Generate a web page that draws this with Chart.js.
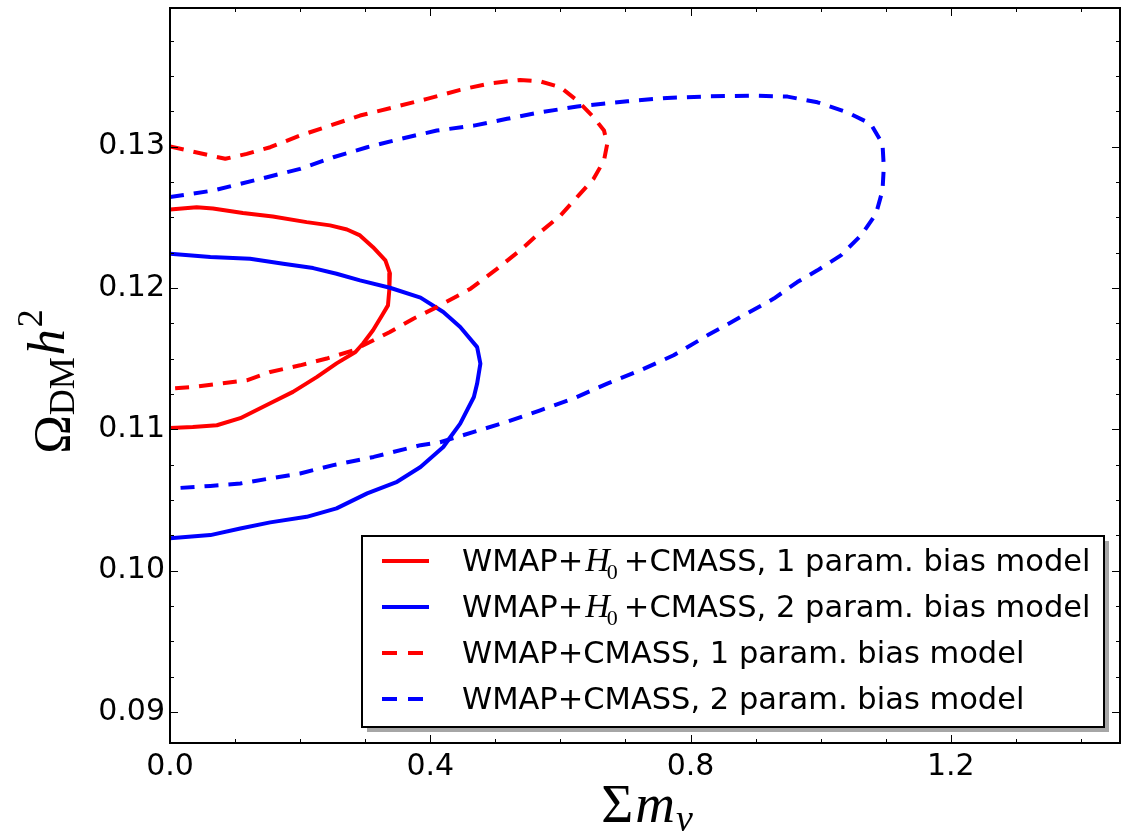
<!DOCTYPE html>
<html>
<head>
<meta charset="utf-8">
<script src="https://cdn.jsdelivr.net/npm/chart.js@4.4.1/dist/chart.umd.min.js"></script>
<style>
html, body { margin: 0; padding: 0; background: #fff; }
#wrap { width: 1121px; height: 837px; }
</style>
</head>
<body>
<div id="wrap"><canvas id="chart" width="1121" height="837"></canvas></div>
<script>
// contour data (sum m_nu, Omega_DM h^2)
var redSolidX = [0, 0.041, 0.066, 0.112, 0.158, 0.210, 0.246, 0.272, 0.292, 0.312, 0.331, 0.338, 0.337, 0.335, 0.326, 0.312, 0.297, 0.285, 0.256, 0.226, 0.189, 0.154, 0.108, 0.072, 0.035, 0];
var redSolidY = [0.12555, 0.12571, 0.12562, 0.12529, 0.12505, 0.12465, 0.12442, 0.12413, 0.12371, 0.12288, 0.12194, 0.12102, 0.11982, 0.11876, 0.11806, 0.11700, 0.11608, 0.11546, 0.11466, 0.11370, 0.11264, 0.11184, 0.11078, 0.11028, 0.11016, 0.11009];

var blueSolidX = [0, 0.062, 0.123, 0.174, 0.220, 0.256, 0.292, 0.338, 0.385, 0.420, 0.446, 0.472, 0.477, 0.472, 0.467, 0.446, 0.431, 0.420, 0.385, 0.349, 0.303, 0.256, 0.210, 0.154, 0.108, 0.062, 0];
var blueSolidY = [0.12242, 0.12218, 0.12206, 0.12171, 0.12140, 0.12100, 0.12053, 0.12001, 0.11931, 0.11829, 0.11723, 0.11581, 0.11464, 0.11323, 0.11228, 0.11040, 0.10945, 0.10874, 0.10733, 0.10628, 0.10546, 0.10440, 0.10380, 0.10341, 0.10298, 0.10251, 0.10228];

var redDashX = [0, 0.085, 0.118, 0.154, 0.200, 0.246, 0.292, 0.344, 0.395, 0.446, 0.492, 0.538, 0.569, 0.600, 0.626, 0.651, 0.667, 0.672, 0.667, 0.651, 0.628, 0.600, 0.569, 0.538, 0.503, 0.462, 0.410, 0.374, 0.338, 0.282, 0.241, 0.200, 0.154, 0.118, 0.077, 0.036, 0];
var redDashY = [0.13000, 0.12913, 0.12948, 0.12995, 0.13078, 0.13148, 0.13219, 0.13278, 0.13337, 0.13401, 0.13447, 0.13471, 0.13461, 0.13419, 0.13325, 0.13207, 0.13113, 0.13019, 0.12901, 0.12772, 0.12654, 0.12512, 0.12394, 0.12265, 0.12136, 0.11994, 0.11864, 0.11782, 0.11688, 0.11558, 0.11500, 0.11452, 0.11405, 0.11346, 0.11323, 0.11299, 0.11288];

var blueDashX = [0, 0.067, 0.108, 0.149, 0.200, 0.251, 0.303, 0.354, 0.410, 0.467, 0.518, 0.569, 0.626, 0.703, 0.764, 0.831, 0.892, 0.949, 0.995, 1.041, 1.077, 1.095, 1.097, 1.095, 1.085, 1.062, 1.031, 0.995, 0.964, 0.928, 0.877, 0.826, 0.774, 0.723, 0.672, 0.620, 0.569, 0.518, 0.467, 0.415, 0.385, 0.313, 0.251, 0.200, 0.154, 0.108, 0.062, 0];
var blueDashY = [0.12642, 0.12689, 0.12736, 0.12783, 0.12842, 0.12924, 0.12995, 0.13054, 0.13113, 0.13148, 0.13196, 0.13242, 0.13283, 0.13320, 0.13344, 0.13355, 0.13360, 0.13353, 0.13313, 0.13242, 0.13160, 0.13019, 0.12854, 0.12689, 0.12524, 0.12371, 0.12230, 0.12124, 0.12041, 0.11924, 0.11794, 0.11664, 0.11523, 0.11417, 0.11323, 0.11217, 0.11134, 0.11052, 0.10981, 0.10908, 0.10887, 0.10804, 0.10746, 0.10687, 0.10652, 0.10616, 0.10599, 0.10580];

var xMajorTicks = [0.0, 0.4, 0.8, 1.2];
var xMinorTicks = [0.1, 0.2, 0.3, 0.5, 0.6, 0.7, 0.9, 1.0, 1.1, 1.3, 1.4];
var yMajorTicks = [0.09, 0.10, 0.11, 0.12, 0.13];
var yMinorTicks = [0.0925, 0.095, 0.0975, 0.1025, 0.105, 0.1075, 0.1125, 0.115, 0.1175, 0.1225, 0.125, 0.1275, 0.1325, 0.135, 0.1375];

// legend: [before H0, has H0, after H0]
var legendLabels = [
    ["WMAP+", true, "+CMASS, 1 param. bias model"],
    ["WMAP+", true, "+CMASS, 2 param. bias model"],
    ["WMAP+CMASS, 1 param. bias model", false, ""],
    ["WMAP+CMASS, 2 param. bias model", false, ""]
];

var RED = "#ff0000", BLUE = "#0000ff";
var DASH = [14, 10];

function pts(xs, ys) {
    return xs.map(function(x, i) { return { x: x, y: ys[i] }; });
}

function series(xs, ys, color, dashed, order) {
    return {
        data: pts(xs, ys),
        showLine: true,
        borderColor: color,
        borderWidth: 4,
        borderDash: dashed ? DASH : [],
        borderJoinStyle: "round",
        pointRadius: 0,
        fill: false,
        tension: 0,
        order: order
    };
}

var sans = "'DejaVu Sans', sans-serif";
var serif = "'Liberation Serif', 'DejaVu Serif', serif";

var decor = {
    id: "decor",
    afterDraw: function(chart) {
        var ctx = chart.ctx, a = chart.chartArea;
        var xs = chart.scales.x, ys = chart.scales.y;
        ctx.save();

        // ticks on all four sides, pointing inwards
        ctx.strokeStyle = "#000";
        ctx.lineWidth = 1;
        function xt(v, len) {
            var p = Math.round(xs.getPixelForValue(v)) + 0.5;
            ctx.beginPath();
            ctx.moveTo(p, a.bottom); ctx.lineTo(p, a.bottom - len);
            ctx.moveTo(p, a.top); ctx.lineTo(p, a.top + len);
            ctx.stroke();
        }
        function yt(v, len) {
            var p = Math.round(ys.getPixelForValue(v)) + 0.5;
            ctx.beginPath();
            ctx.moveTo(a.left, p); ctx.lineTo(a.left + len, p);
            ctx.moveTo(a.right, p); ctx.lineTo(a.right - len, p);
            ctx.stroke();
        }
        xMajorTicks.forEach(function(v) { xt(v, 8); });
        xMinorTicks.forEach(function(v) { xt(v, 4); });
        yMajorTicks.forEach(function(v) { yt(v, 8); });
        yMinorTicks.forEach(function(v) { yt(v, 4); });

        // legend box with shadow
        var bw = 742, bh = 191;
        var bx = a.right - 16 - bw, by = a.bottom - 16 - bh;
        ctx.fillStyle = "#a6a6a6";
        ctx.fillRect(bx + 5, by + 5, bw, bh);
        ctx.fillStyle = "#fff";
        ctx.fillRect(bx, by, bw, bh);
        ctx.lineWidth = 2;
        ctx.strokeStyle = "#000";
        ctx.strokeRect(bx, by, bw, bh);

        var ds = chart.data.datasets;
        legendLabels.forEach(function(lab, i) {
            var cy = by + 25 + i * 46;
            ctx.beginPath();
            ctx.strokeStyle = ds[i].borderColor;
            ctx.lineWidth = 4;
            ctx.setLineDash(ds[i].borderDash.length ? [15, 11] : []);
            ctx.moveTo(bx + 20, cy);
            ctx.lineTo(bx + 67, cy);
            ctx.stroke();
            ctx.setLineDash([]);

            var tx = bx + 100, base = cy + 10;
            ctx.fillStyle = "#000";
            ctx.textBaseline = "alphabetic";
            ctx.textAlign = "left";
            ctx.font = "30.5px " + sans;
            ctx.fillText(lab[0], tx, base);
            tx += ctx.measureText(lab[0]).width;
            if (lab[1]) {
                tx += 2;
                ctx.font = "italic 34px " + serif;
                ctx.fillText("H", tx, base);
                tx += ctx.measureText("H").width - 3;
                ctx.font = "22px " + serif;
                ctx.fillText("0", tx, base + 8);
                tx += ctx.measureText("0").width + 6;
                ctx.font = "30.5px " + sans;
                ctx.fillText(lab[2], tx, base);
            }
        });

        // x axis title: Sigma m_nu
        ctx.fillStyle = "#000";
        ctx.textBaseline = "alphabetic";
        ctx.textAlign = "left";
        ctx.font = "55px " + serif;
        var wS = ctx.measureText("\u03A3").width + 2;
        ctx.font = "italic 55px " + serif;
        var wm = ctx.measureText("m").width + 1;
        ctx.font = "italic 38px " + serif;
        var wn = ctx.measureText("\u03BD").width;
        var cx = (a.left + a.right) / 2 + 2;
        var x0 = cx - (wS + wm + wn) / 2;
        ctx.font = "55px " + serif;
        ctx.fillText("\u03A3", x0, 822);
        ctx.font = "italic 55px " + serif;
        ctx.fillText("m", x0 + wS, 822);
        ctx.font = "italic 38px " + serif;
        ctx.fillText("\u03BD", x0 + wS + wm, 831);

        // y axis title: Omega_DM h^2
        ctx.translate(70, (a.top + a.bottom) / 2 + 6);
        ctx.rotate(-Math.PI / 2);
        ctx.font = "52px " + serif;
        var wO = ctx.measureText("\u03A9").width;
        ctx.font = "36px " + serif;
        var wD = ctx.measureText("DM").width;
        ctx.font = "italic 52px " + serif;
        var wh = ctx.measureText("h").width;
        ctx.font = "36px " + serif;
        var w2 = ctx.measureText("2").width;
        var s = -(wO + wD + wh + w2 + 4) / 2;
        ctx.font = "52px " + serif;
        ctx.fillText("\u03A9", s, 0);
        ctx.font = "36px " + serif;
        ctx.fillText("DM", s + wO, 4);
        ctx.font = "italic 52px " + serif;
        ctx.fillText("h", s + wO + wD + 2, -6);
        ctx.font = "36px " + serif;
        ctx.fillText("2", s + wO + wD + wh + 4, -28);

        ctx.restore();

        // frame
        ctx.save();
        ctx.strokeStyle = "#000";
        ctx.lineWidth = 2;
        ctx.strokeRect(a.left, a.top, a.right - a.left, a.bottom - a.top);
        ctx.restore();
    }
};

var chart = new Chart(document.getElementById("chart"), {
    type: "scatter",
    data: {
        datasets: [
            series(redSolidX, redSolidY, RED, false, 4),
            series(blueSolidX, blueSolidY, BLUE, false, 3),
            series(redDashX, redDashY, RED, true, 2),
            series(blueDashX, blueDashY, BLUE, true, 1)
        ]
    },
    options: {
        responsive: false,
        animation: false,
        devicePixelRatio: 1,
        layout: { padding: { top: 8, right: 1, left: 0, bottom: 0 } },
        plugins: {
            legend: { display: false },
            tooltip: { enabled: false }
        },
        scales: {
            x: {
                type: "linear",
                min: 0,
                max: 1.46,
                grid: { display: false, drawTicks: false },
                border: { display: false },
                afterBuildTicks: function(scale) {
                    scale.ticks = xMajorTicks.map(function(v) { return { value: v }; });
                },
                afterFit: function(scale) {
                    scale.height = 94;
                    scale.paddingLeft = 0;
                    scale.paddingRight = 0;
                },
                ticks: {
                    padding: 6,
                    color: "#000",
                    font: { family: "DejaVu Sans", size: 30 },
                    maxRotation: 0,
                    autoSkip: false,
                    callback: function(v) { return Number(v).toFixed(1); }
                }
            },
            y: {
                type: "linear",
                min: 0.0878,
                max: 0.1398,
                grid: { display: false, drawTicks: false },
                border: { display: false },
                afterBuildTicks: function(scale) {
                    scale.ticks = yMajorTicks.map(function(v) { return { value: v }; });
                },
                afterFit: function(scale) {
                    scale.width = 170;
                    scale.paddingTop = 0;
                    scale.paddingBottom = 0;
                },
                ticks: {
                    padding: 5,
                    color: "#000",
                    font: { family: "DejaVu Sans", size: 30 },
                    autoSkip: false,
                    callback: function(v) { return Number(v).toFixed(2); }
                }
            }
        }
    },
    plugins: [decor]
});
</script>
</body>
</html>
